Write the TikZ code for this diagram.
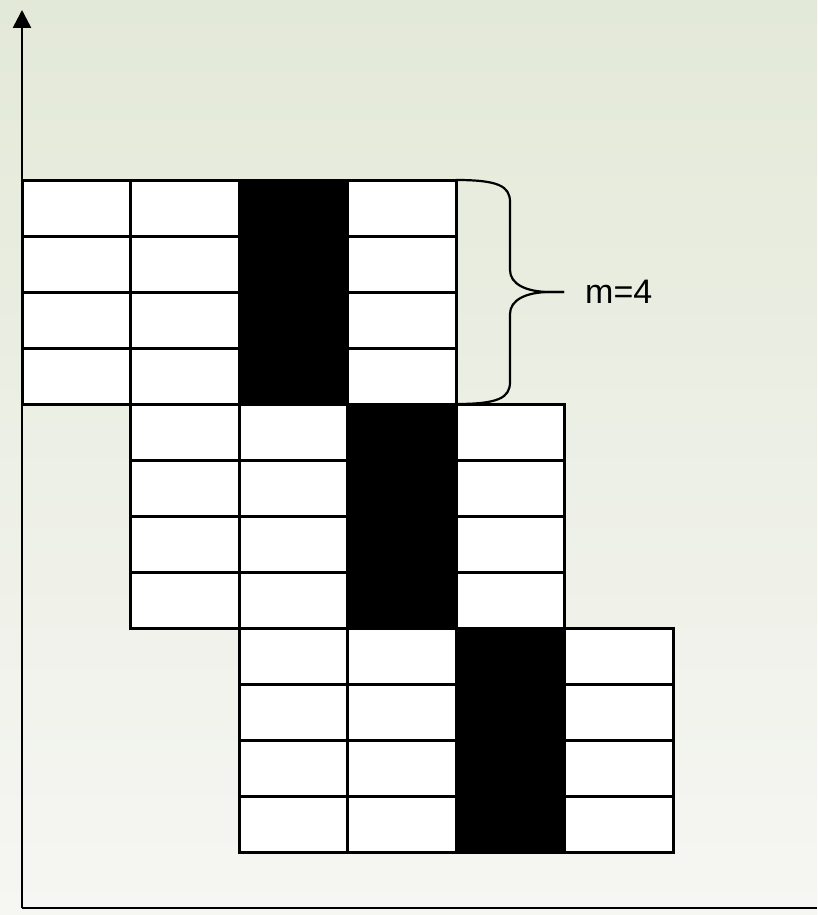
\documentclass[tikz,border=0pt]{standalone}
\usepackage{fontspec}
\setmainfont{Liberation Sans}
\usetikzlibrary{positioning, arrows.meta}
\definecolor{PaleSage}{HTML}{E3E9D8}
\definecolor{PaleMist}{HTML}{F6F6F3}

\begin{document}
\begin{tikzpicture}[
    x=1pt, y=-1pt,
    font=\fontsize{34}{38}\selectfont,
    cell/.style={draw=black, fill=white, line width=3pt},
    dark/.style={draw=black, fill=black, line width=3pt},
    axis/.style={draw=black, line width=2.6pt},
    brace/.style={draw=black, line width=2.2pt}
  ]
    % Background
    \useasboundingbox (0,0) rectangle (817,915);
    \shade[shading angle=225, top color=PaleSage, bottom color=PaleMist] (0,0) rectangle (817,915);

    % Axes
    \coordinate (origin) at (22,908);
    \coordinate (ytop) at (22,10);
    \coordinate (xend) at (817,908);
    \draw [axis, -{Triangle[width=18pt, length=18pt]}] (origin) -- (ytop);
    \draw [axis] (origin) -- (xend);

    % Blocks of cells
    \foreach \b in {0,1,2} {
      \foreach \c in {0,1,2,3} {
        \foreach \r in {0,1,2,3} {
          \pgfmathsetmacro{\xa}{22+108.5*(\b+\c)}
          \pgfmathsetmacro{\ya}{180+56*(4*\b+\r)}
          \ifnum\c=2
            \draw [dark] (\xa,\ya) rectangle ++(108.5,56);
          \else
            \draw [cell] (\xa,\ya) rectangle ++(108.5,56);
          \fi
        }
      }
    }

    % Brace
    \coordinate (btop) at (456,180);
    \coordinate (btip) at (564,292);
    \coordinate (bbot) at (456,404);
    \draw [brace] (btop) .. controls (498,180) and (510,186) .. (510,202)
      -- (510,270) .. controls (510,284) and (526,292) .. (550,292) -- (btip);
    \draw [brace] (btip) -- (550,292) .. controls (526,292) and (510,300) .. (510,314)
      -- (510,382) .. controls (510,398) and (498,404) .. (bbot);
    \node (mlabel) [anchor=west, right=21pt of btip, inner sep=0pt] {m=4};
\end{tikzpicture}
\end{document}
